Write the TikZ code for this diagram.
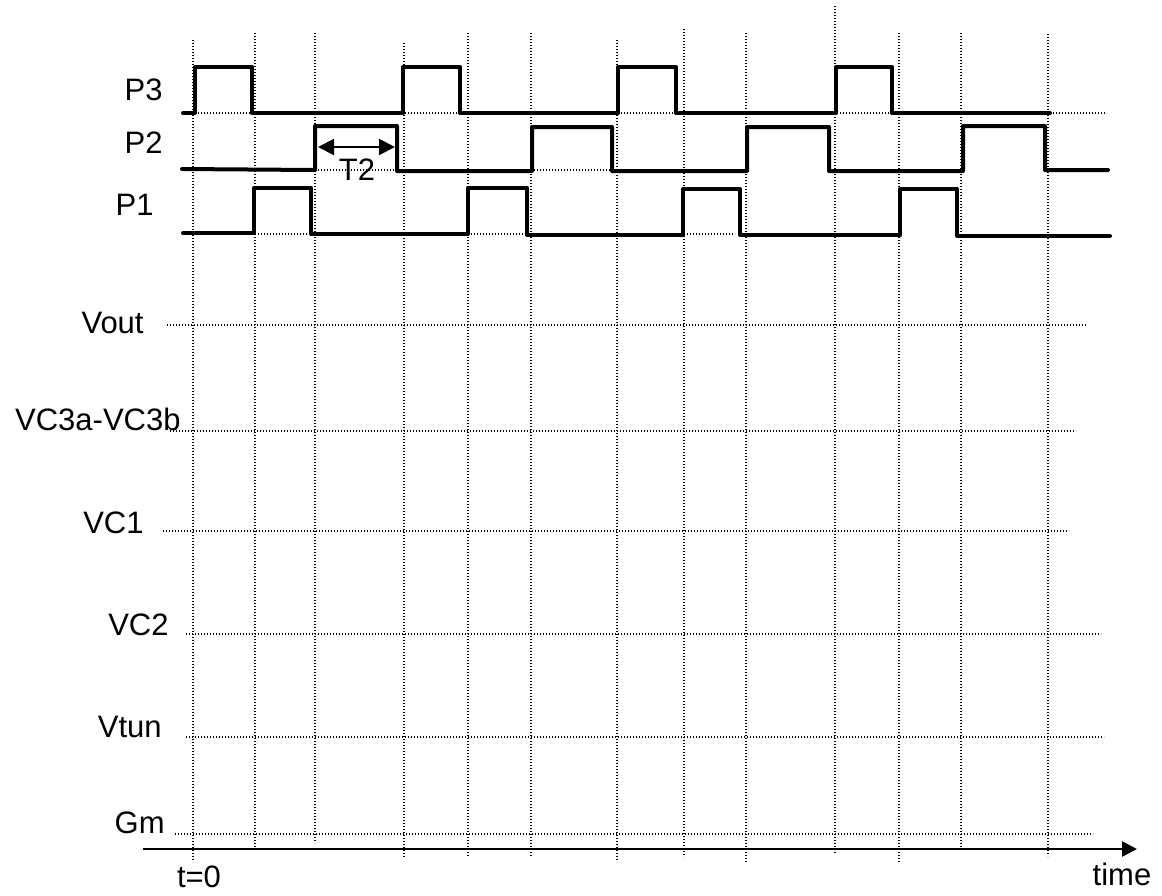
\documentclass[tikz,border=0pt]{standalone}
\usepackage{fontspec}
\setmainfont{Liberation Sans}
\usetikzlibrary{arrows.meta, positioning, calc}
\tikzset{
  gridline/.style={line width=0.75pt, dash pattern=on 0.6pt off 0.9pt},
  wave/.style={line width=2pt, line join=round, line cap=round},
  siglabel/.style={inner sep=0pt, font=\fontsize{15.5}{18}\selectfont},
  timeaxis/.style={-{Triangle[length=7.5pt, width=7.5pt]}, line width=1.3pt},
  span/.style={{Triangle[length=8pt, width=8pt]}-{Triangle[length=8pt, width=8pt]}, line width=1pt}
}

\begin{document}
\begin{tikzpicture}[x=0.5pt, y=-0.5pt]
    \useasboundingbox (0,0) rectangle (1162,895);

    % vertical grid (x / top / bottom)
    \foreach \x/\t/\b in {193/40/862, 255/33/848, 315/33/843, 404/43/857, 468/33/857,
        531/33/857, 617/40/862, 684/29/857, 746/33/862, 835/6/854, 899/33/862,
        961/33/850, 1048/34/856}
      \draw[gridline] (\x,\t) -- (\x,\b);

    % horizontal grid (y / start / end)
    \foreach \y/\a/\b in {113/183/1105, 170/183/738, 234/183/735, 325/167/1086,
        431/170/1076, 531/163/1069, 634/186/1101, 737/186/1104, 834/175/1093}
      \draw[gridline] (\a,\y) -- (\b,\y);

    % signal names
    \node[siglabel, anchor=base east] (p3) at (163,100) {P3};
    \node[siglabel, anchor=base east] (p2) at (163,153) {P2};
    \node[siglabel, anchor=base east] (p1) at (154,215) {P1};
    \node[siglabel, anchor=base east] (vout) at (144,333) {Vout};
    \node[siglabel, anchor=base east] (vc3) at (181,430) {VC3a-VC3b};
    \node[siglabel, anchor=base east] (vc1) at (144,533) {VC1};
    \node[siglabel, anchor=base east] (vc2) at (169,635) {VC2};
    \node[siglabel, anchor=base east] (vtun) at (162,737) {Vtun};
    \node[siglabel, anchor=base east] (gm) at (165,833) {Gm};

    % clock phases
    \draw[wave] (183,113) -- (195,113) -- (195,67) -- (252,67) -- (252,113) -- (403,113)
      -- (403,67) -- (460,67) -- (460,113) -- (618,113) -- (618,67) -- (676,67)
      -- (676,113) -- (836,113) -- (836,67) -- (892,67) -- (892,113) -- (1050,113);
    \draw[wave] (182,169) -- (315,170) -- (315,126) -- (397,126) -- (397,171) -- (532,171)
      -- (532,127) -- (612,127) -- (612,171) -- (747,171) -- (747,127) -- (829,127)
      -- (829,171) -- (963,171) -- (963,126) -- (1045,126) -- (1045,170) -- (1108,170);
    \draw[wave] (183,233) -- (254,233) -- (254,188) -- (311,188) -- (311,234) -- (468,234)
      -- (468,188) -- (527,188) -- (527,235) -- (683,235) -- (683,189) -- (740,189)
      -- (740,235) -- (900,235) -- (900,189) -- (957,189) -- (957,236) -- (1110,236);

    % pulse width
    \coordinate (tl) at (318,147);
    \coordinate (tr) at (395,147);
    \draw[span] (tl) -- (tr);
    \node[siglabel, anchor=base] (t2) at (357,180) {T2};

    % time axis
    \coordinate (ax0) at (143,849);
    \coordinate (ax1) at (1137,849);
    \draw[timeaxis] (ax0) -- (ax1);
    \node[siglabel, anchor=base] (tzero) at (199,887) {t=0};
    \node[siglabel, anchor=base] (time) at (1122,885) {time};

\end{tikzpicture}
\end{document}
